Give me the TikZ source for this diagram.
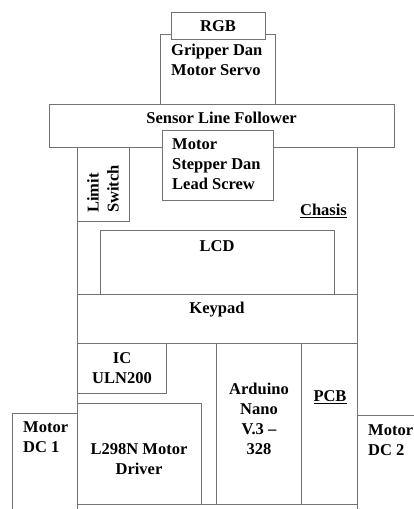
\documentclass[tikz,border=0pt]{standalone}
\usepackage{fontspec}
\setmainfont{Liberation Serif}
\begin{document}
\begin{tikzpicture}[x=1pt,y=-1pt,
  box/.style={draw=black!55, line width=0.8pt},
  wbox/.style={draw=black!55, line width=0.8pt, fill=white},
  lbl/.style={font=\fontsize{16.5}{20}\selectfont\bfseries, inner sep=0pt, align=center, text=black},
  lbll/.style={lbl, align=left, anchor=west}]
\useasboundingbox (0,0) rectangle (414,509);
\clip (0,0) rectangle (414,509);
% chassis
\draw[box] (77,147) rectangle (357,520);
\draw[box] (77,294) -- (357,294);
\draw[box] (77,343) -- (357,343);
\draw[box] (77,504) -- (357,504);
% top parts
\draw[box] (160,104) -- (160,34) -- (275,34) -- (275,104);
\draw[wbox] (171,12) rectangle (265,39);
\draw[box] (49,104) rectangle (394,147);
\draw[wbox] (162,130) rectangle (273,200);
\draw[box] (77,147) rectangle (129,221);
\draw[box] (100,230) rectangle (334,294);
% bottom parts
\draw[box] (77,343) rectangle (166,393);
\draw[box] (77,403) rectangle (201,504);
\draw[box] (216,343) rectangle (301,504);
\draw[box] (12,520) -- (12,413) -- (77,413);
\draw[box] (357,415) -- (420,415);
% labels
\node[lbl] (rgb) at (218,26) {RGB};
\node[lbll] (grip) at (171,60) {Gripper Dan\\Motor Servo};
\node[lbl] (sensor) at (221.5,118) {Sensor Line Follower};
\node[lbll] (stepper) at (172,164) {Motor\\Stepper Dan\\Lead Screw};
\node[lbl, align=left, rotate=90] (limit) at (103,189) {Limit\\Switch};
\node[lbl] (chasis) at (323.5,211) {\underline{Chasis}};
\node[lbl] (lcd) at (217,246) {LCD};
\node[lbl] (keypad) at (217,310) {Keypad};
\node[lbl] (ic) at (122,368) {IC\\ULN200};
\node[lbl] (arduino) at (259,419) {Arduino\\Nano\\V.3 --\\328};
\node[lbl] (pcb) at (330,397) {\underline{PCB}};
\node[lbll] (dc1) at (23,437) {Motor\\DC 1};
\node[lbl] (l298) at (139,459) {L298N Motor\\Driver};
\node[lbll] (dc2) at (368,440) {Motor\\DC 2};
\end{tikzpicture}
\end{document}
